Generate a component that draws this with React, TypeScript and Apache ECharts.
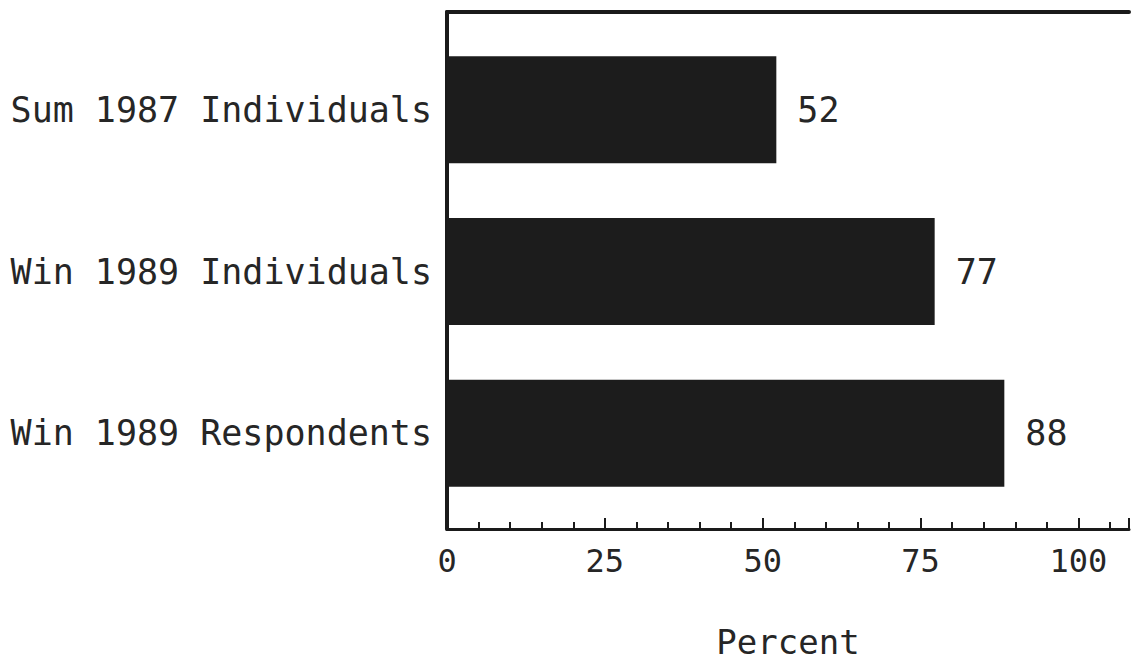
import React, { useEffect, useRef } from "react";
import * as echarts from "echarts";

const categories = ["Sum 1987 Individuals", "Win 1989 Individuals", "Win 1989 Respondents"];
const values = [52, 77, 88];
const axisMin = 0;
const axisMax = 108;
const tickStep = 5;
const labelStep = 25;
const axisTitle = "Percent";

const FONT = "DejaVu Sans Mono";
const INK = "#262626";

export default function App() {
  const ref = useRef<HTMLDivElement>(null);
  useEffect(() => {
    if (!ref.current) return;
    const chart = echarts.init(ref.current, undefined, { renderer: "svg" });
    const frameGrid = { left: 447, right: 1, top: 12, bottom: 131 };
    chart.setOption({
      animation: false,
      backgroundColor: "#ffffff",
      grid: [
        { left: 447, right: 1, top: 29, bottom: 150 },
        frameGrid,
      ],
      xAxis: [
        {
          gridIndex: 0,
          type: "value",
          min: axisMin,
          max: axisMax,
          show: false,
        },
        {
          gridIndex: 1,
          type: "value",
          position: "bottom",
          min: axisMin,
          max: axisMax,
          interval: tickStep,
          axisLine: { show: true, lineStyle: { color: "#1a1a1a", width: 3 } },
          axisTick: { show: true, inside: true, length: 7, lineStyle: { color: "#1a1a1a", width: 2 } },
          axisLabel: {
            show: true,
            margin: 16,
            fontFamily: FONT,
            fontSize: 32,
            color: INK,
            formatter: (v: number) => (v % labelStep === 0 && v <= 100 ? String(v) : ""),
          },
          splitLine: { show: false },
          name: axisTitle,
          nameLocation: "middle",
          nameGap: 96,
          nameTextStyle: { fontFamily: FONT, fontSize: 34, color: INK },
        },
        {
          gridIndex: 1,
          type: "value",
          position: "bottom",
          min: axisMin,
          max: axisMax,
          interval: labelStep,
          axisLine: { show: false },
          axisTick: { show: true, inside: true, length: 11, lineStyle: { color: "#1a1a1a", width: 2 } },
          axisLabel: { show: false },
          splitLine: { show: false },
        },
        {
          gridIndex: 1,
          type: "value",
          position: "top",
          min: axisMin,
          max: axisMax,
          axisLine: { show: true, lineStyle: { color: "#1a1a1a", width: 4 } },
          axisTick: { show: false },
          axisLabel: { show: false },
          splitLine: { show: false },
        },
      ],
      yAxis: [
        {
          gridIndex: 0,
          type: "category",
          data: categories,
          inverse: true,
          axisLine: { show: false },
          axisTick: { show: false },
          axisLabel: {
            margin: 15,
            fontFamily: FONT,
            fontSize: 35,
            color: INK,
          },
        },
        {
          gridIndex: 1,
          type: "value",
          min: 0,
          max: 1,
          axisLine: { show: true, lineStyle: { color: "#1a1a1a", width: 4 } },
          axisTick: { show: false },
          axisLabel: { show: false },
          splitLine: { show: false },
        },
      ],
      series: [
        {
          type: "bar",
          xAxisIndex: 0,
          yAxisIndex: 0,
          data: values,
          barWidth: 107,
          itemStyle: { color: "#1c1c1c" },
          label: {
            show: true,
            position: "right",
            distance: 21,
            fontFamily: FONT,
            fontSize: 35,
            color: INK,
          },
        },
      ],
    });
    return () => chart.dispose();
  }, []);
  return (
    <div
      ref={ref}
      style={{ position: "absolute", left: 0, top: 0, width: 1132, height: 664 }}
    />
  );
}
